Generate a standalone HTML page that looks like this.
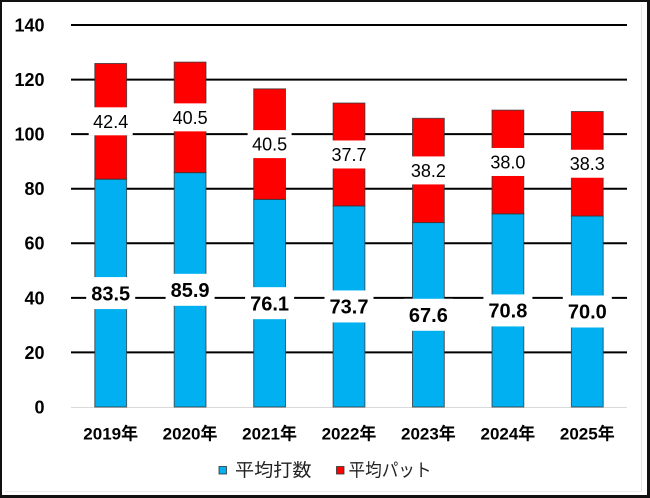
<!DOCTYPE html>
<html><head><meta charset="utf-8"><style>
html,body{margin:0;padding:0;background:#fff;}
svg{display:block;}
text{font-family:"Liberation Sans","Noto Sans CJK JP",sans-serif;}
</style></head><body>
<svg width="650" height="498" viewBox="0 0 650 498" xmlns="http://www.w3.org/2000/svg">
<rect x="0" y="0" width="650" height="498" fill="#fff"/>
<!-- faint inner frame -->
<line x1="641.5" y1="5" x2="641.5" y2="492" stroke="#e6e6e6" stroke-width="1"/>
<line x1="5" y1="491.5" x2="641" y2="491.5" stroke="#ececec" stroke-width="1"/>
<!-- outer border -->
<rect x="0" y="0" width="650" height="2" fill="#111"/>
<rect x="0" y="0" width="2" height="498" fill="#111"/>
<rect x="647" y="0" width="3" height="498" fill="#111"/>
<rect x="0" y="495" width="650" height="3" fill="#111"/>

<!-- gridlines -->
<g stroke="#000" stroke-width="2">
<line x1="71" y1="25" x2="627" y2="25"/>
<line x1="71" y1="79.57" x2="627" y2="79.57"/>
<line x1="71" y1="134.14" x2="627" y2="134.14"/>
<line x1="71" y1="188.71" x2="627" y2="188.71"/>
<line x1="71" y1="243.29" x2="627" y2="243.29"/>
<line x1="71" y1="297.86" x2="627" y2="297.86"/>
<line x1="71" y1="352.43" x2="627" y2="352.43"/>
</g>
<line x1="71" y1="407.5" x2="627" y2="407.5" stroke="#d9d9d9" stroke-width="1"/>

<!-- bars -->
<g stroke="#333" stroke-opacity="0.75" stroke-width="1">
<rect x="94.8" y="179.16" width="31.8" height="227.84" fill="#00B0F0"/>
<rect x="94.8" y="63.47" width="31.8" height="115.69" fill="#FF0000"/>
<rect x="174.2" y="172.62" width="31.8" height="234.38" fill="#00B0F0"/>
<rect x="174.2" y="62.11" width="31.8" height="110.51" fill="#FF0000"/>
<rect x="253.7" y="199.36" width="31.8" height="207.64" fill="#00B0F0"/>
<rect x="253.7" y="88.85" width="31.8" height="110.51" fill="#FF0000"/>
<rect x="333.1" y="205.90" width="31.8" height="201.10" fill="#00B0F0"/>
<rect x="333.1" y="103.04" width="31.8" height="102.86" fill="#FF0000"/>
<rect x="412.5" y="222.55" width="31.8" height="184.45" fill="#00B0F0"/>
<rect x="412.5" y="118.32" width="31.8" height="104.23" fill="#FF0000"/>
<rect x="492.0" y="213.82" width="31.8" height="193.18" fill="#00B0F0"/>
<rect x="492.0" y="110.13" width="31.8" height="103.69" fill="#FF0000"/>
<rect x="571.4" y="216.00" width="31.8" height="191.00" fill="#00B0F0"/>
<rect x="571.4" y="111.50" width="31.8" height="104.50" fill="#FF0000"/>
</g>

<!-- label boxes: blue -->
<g fill="#fff">
<rect x="86.2" y="277.08" width="49" height="32"/>
<rect x="165.6" y="273.81" width="49" height="32"/>
<rect x="245.1" y="287.18" width="49" height="32"/>
<rect x="324.5" y="290.45" width="49" height="32"/>
<rect x="403.9" y="298.77" width="49" height="32"/>
<rect x="483.4" y="294.41" width="49" height="32"/>
<rect x="562.8" y="295.5" width="49" height="32"/>
<!-- red -->
<rect x="88.7" y="107.32" width="44" height="28"/>
<rect x="168.1" y="103.36" width="44" height="28"/>
<rect x="247.6" y="130.10" width="44" height="28"/>
<rect x="327.0" y="140.47" width="44" height="28"/>
<rect x="406.4" y="156.43" width="44" height="28"/>
<rect x="485.9" y="147.97" width="44" height="28"/>
<rect x="565.3" y="149.75" width="44" height="28"/>
</g>

<!-- blue labels -->
<g font-size="20" font-weight="bold" fill="#000" text-anchor="middle">
<text x="110.7" y="300.3">83.5</text>
<text x="190.1" y="297.0">85.9</text>
<text x="269.6" y="310.4">76.1</text>
<text x="349.0" y="313.6">73.7</text>
<text x="428.4" y="322.0">67.6</text>
<text x="507.9" y="317.6">70.8</text>
<text x="587.3" y="318.7">70.0</text>
</g>
<!-- red labels -->
<g font-size="18" fill="#000" text-anchor="middle">
<text x="110.7" y="127.8">42.4</text>
<text x="190.1" y="123.8">40.5</text>
<text x="269.6" y="150.6">40.5</text>
<text x="349.0" y="160.9">37.7</text>
<text x="428.4" y="176.9">38.2</text>
<text x="507.9" y="168.4">38.0</text>
<text x="587.3" y="170.2">38.3</text>
</g>

<!-- y axis labels -->
<g font-size="18" font-weight="bold" fill="#000" text-anchor="end">
<text x="44.5" y="31.4">140</text>
<text x="44.5" y="86.0">120</text>
<text x="44.5" y="140.5">100</text>
<text x="44.5" y="195.1">80</text>
<text x="44.5" y="249.7">60</text>
<text x="44.5" y="304.3">40</text>
<text x="44.5" y="358.8">20</text>
<text x="44.5" y="413.4">0</text>
</g>

<!-- x axis labels -->
<g font-size="17" font-weight="bold" fill="#000" text-anchor="middle">
<text x="110.7" y="439.6">2019年</text>
<text x="190.1" y="439.6">2020年</text>
<text x="269.6" y="439.6">2021年</text>
<text x="349.0" y="439.6">2022年</text>
<text x="428.4" y="439.6">2023年</text>
<text x="507.9" y="439.6">2024年</text>
<text x="587.3" y="439.6">2025年</text>
</g>

<!-- legend -->
<rect x="219" y="466.5" width="7.5" height="7.5" fill="#00B0F0" stroke="#333" stroke-width="0.8"/>
<text x="235" y="476.3" font-size="18" fill="#222" textLength="76.5" lengthAdjust="spacingAndGlyphs">平均打数</text>
<rect x="336.5" y="466.5" width="7.5" height="7.5" fill="#FF0000" stroke="#333" stroke-width="0.8"/>
<text x="348.5" y="476.3" font-size="18" fill="#222" textLength="83" lengthAdjust="spacingAndGlyphs">平均パット</text>
</svg>
</body></html>
